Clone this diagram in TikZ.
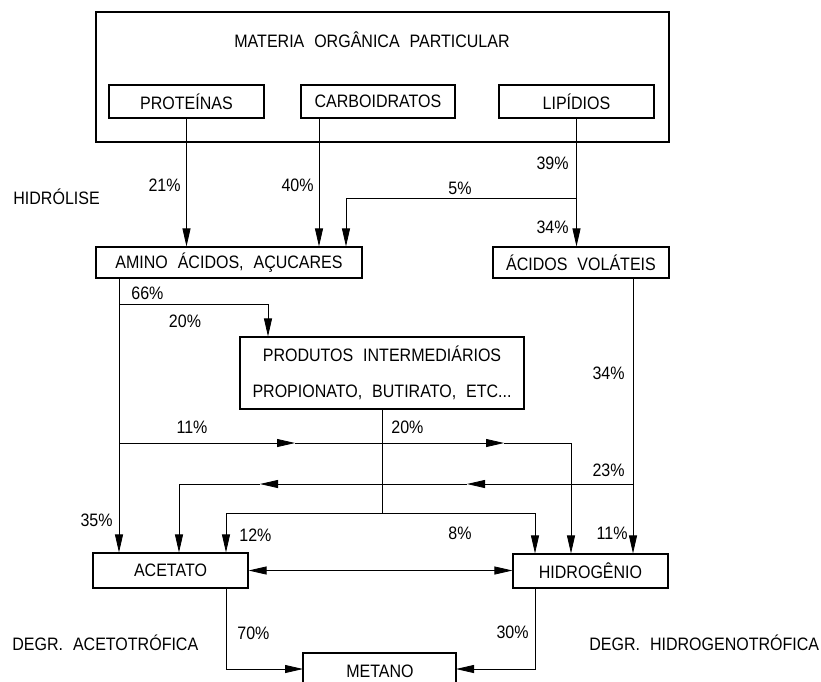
\documentclass[tikz,border=0pt]{standalone}
\usepackage{fontspec}
\setmainfont{Liberation Sans}[FakeStretch=0.89]
\usetikzlibrary{arrows.meta}
\newcommand\wsp{\hspace{0.55em}}
\newcommand\fs{\fontsize{18}{21}\selectfont}
\begin{document}
\begin{tikzpicture}[x=1pt,y=-1pt, line width=0.8pt,
 box/.style={draw, line width=1.1pt, inner sep=0pt, font=\fs},
 lbl/.style={inner sep=0pt, font=\fs},
 arr/.style={-{Triangle[length=18pt,width=8pt]}},
 dbl/.style={{Triangle[length=18pt,width=8pt]}-{Triangle[length=18pt,width=8pt]}}]
\useasboundingbox (0,0) rectangle (821,681);
% boxes
\node[box, minimum width=573pt, minimum height=130pt] (outer) at (382.5,77) {};
\node[lbl] (title) at (372,40) {MATERIA\wsp ORGÂNICA\wsp PARTICULAR};
\node[box, minimum width=155pt, minimum height=33pt] (prot) at (186.5,101.5) {PROTEÍNAS};
\node[box, minimum width=154pt, minimum height=33pt] (carb) at (378,101.5) {CARBOIDRATOS};
\node[box, minimum width=155pt, minimum height=33pt] (lip) at (576.5,101.5) {LIPÍDIOS};
\node[box, minimum width=266pt, minimum height=31pt] (amino) at (229,262.5) {AMINO\wsp ÁCIDOS,\wsp AÇUCARES};
\node[box, minimum width=176pt, minimum height=31pt] (acid) at (581,262.5) {ÁCIDOS\wsp VOLÁTEIS};
\node[box, minimum width=284pt, minimum height=72pt, align=center, font=\fontsize{18}{36}\selectfont] (prod) at (382,373) {PRODUTOS\wsp INTERMEDIÁRIOS\\PROPIONATO,\wsp BUTIRATO,\wsp ETC...};
\node[box, minimum width=155pt, minimum height=35pt] (acet) at (170.5,570.5) {ACETATO};
\node[box, minimum width=155pt, minimum height=34pt] (hidr) at (590.5,571) {HIDROGÊNIO};
\node[lbl] (met) at (380,671) {METANO};
\coordinate (mtl) at (303,653);
\coordinate (mtr) at (456,653);
\draw[line width=1.1pt] (mtl |- 0,690) -- (mtl) -- (mtr) -- (mtr |- 0,690);
% helper coordinates
\coordinate (xC) at (319,0);
\coordinate (x5) at (346,0);
\coordinate (y5) at (0,198);
\coordinate (xA) at (119,0);
\coordinate (y66) at (0,304);
\coordinate (xB) at (268,0);
\coordinate (y11) at (0,443);
\coordinate (xH1) at (571,0);
\coordinate (xV) at (633,0);
\coordinate (y23) at (0,484);
\coordinate (xA2) at (179,0);
\coordinate (y12) at (0,513);
\coordinate (xA3) at (226,0);
\coordinate (xH2) at (535,0);
\coordinate (m11a) at (295,443);
\coordinate (m11b) at (504,443);
\coordinate (m23a) at (260,484);
\coordinate (m23b) at (467,484);
\coordinate (mw) at (303,669);
\coordinate (me) at (456,669);
% connectors
\draw[arr] (prot.south) -- (prot.south |- amino.north);
\draw[arr] (carb.south -| xC) -- (amino.north -| xC);
\draw[arr] (lip.south) -- (lip.south |- acid.north);
\draw[arr] (lip.south |- y5) -| (amino.north -| x5);
\draw[arr] (amino.south -| xA) -- (acet.north -| xA);
\draw[arr] (xA |- y66) -| (prod.north -| xB);
\draw[arr] (xA |- y11) -- (m11a);
\draw[arr] (m11a) -- (m11b);
\draw[arr] (m11b) -| (hidr.north -| xH1);
\draw[arr] (acid.south -| xV) -- (hidr.north -| xV);
\draw[arr] (xV |- y23) -- (m23b);
\draw[arr] (m23b) -- (m23a);
\draw[arr] (m23a) -| (acet.north -| xA2);
\draw (prod.south) -- (prod.south |- y12);
\draw (xA3 |- y12) -- (xH2 |- y12);
\draw[arr] (xA3 |- y12) -- (acet.north -| xA3);
\draw[arr] (xH2 |- y12) -- (hidr.north -| xH2);
\draw[dbl] (acet.east) -- (acet.east -| hidr.west);
\draw[arr] (acet.south -| xA3) |- (mw);
\draw[arr] (hidr.south -| xH2) |- (me);
% labels
\node[lbl, anchor=east] (l21) at (181,185) {21\%};
\node[lbl, anchor=east] (l40) at (314,185) {40\%};
\node[lbl, anchor=west] (lhid) at (13,197) {HIDRÓLISE};
\node[lbl, anchor=east] (l39) at (569,163) {39\%};
\node[lbl] (l5) at (460,188) {5\%};
\node[lbl, anchor=east] (l34a) at (569,227) {34\%};
\node[lbl, anchor=west] (l66) at (131,293) {66\%};
\node[lbl] (l20a) at (185,321) {20\%};
\node[lbl, anchor=west] (l20b) at (391,427) {20\%};
\node[lbl] (l11a) at (192,427) {11\%};
\node[lbl, anchor=east] (l34b) at (625,373) {34\%};
\node[lbl, anchor=east] (l23) at (625,470) {23\%};
\node[lbl, anchor=east] (l35) at (113,520) {35\%};
\node[lbl, anchor=west] (l12) at (239,535) {12\%};
\node[lbl] (l8) at (460,533) {8\%};
\node[lbl, anchor=east] (l11b) at (628,533) {11\%};
\node[lbl, anchor=west] (l70) at (237,633) {70\%};
\node[lbl, anchor=east] (l30) at (529,632) {30\%};
\node[lbl, anchor=west] (lace) at (12,643) {DEGR.\wsp ACETOTRÓFICA};
\node[lbl, anchor=west] (lhg) at (589,643) {DEGR.\wsp HIDROGENOTRÓFICA};
\end{tikzpicture}
\end{document}
